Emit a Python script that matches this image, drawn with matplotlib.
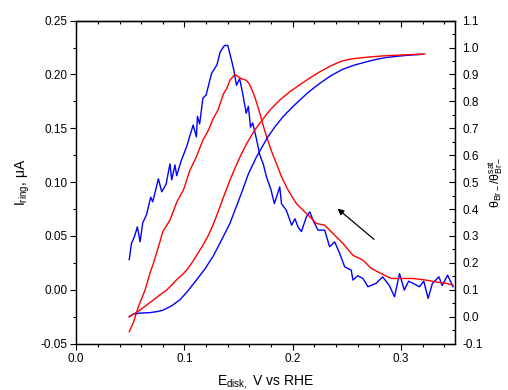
import numpy as np
import matplotlib
matplotlib.use("Agg")
import matplotlib.pyplot as plt
from matplotlib.ticker import MultipleLocator, FormatStrFormatter

plt.rcParams["font.family"] = ["Liberation Sans", "DejaVu Sans"]
plt.rcParams["mathtext.fontset"] = "custom"
plt.rcParams["mathtext.rm"] = "Liberation Sans"
plt.rcParams["mathtext.it"] = "Liberation Sans:italic"
plt.rcParams["axes.unicode_minus"] = False

# ring current, blue (V, uA)
ring_blue_E = [0.049, 0.051, 0.054, 0.0565, 0.059, 0.0614, 0.065, 0.0688, 0.0707, 0.0759,
               0.079, 0.083, 0.0866, 0.0882, 0.0912, 0.0928, 0.097, 0.102, 0.108, 0.111,
               0.112, 0.114, 0.117, 0.120, 0.125, 0.130, 0.133, 0.137, 0.140, 0.1435,
               0.1456, 0.148, 0.151, 0.154, 0.157, 0.159, 0.161, 0.163, 0.1665, 0.1696,
               0.1727, 0.1757, 0.180, 0.183, 0.188, 0.1896, 0.194, 0.199, 0.202, 0.205,
               0.208, 0.2126, 0.2157, 0.219, 0.2233, 0.2295, 0.234, 0.2387, 0.2433, 0.248,
               0.254, 0.2556, 0.260, 0.2648, 0.2694, 0.277, 0.283, 0.289, 0.294, 0.2986,
               0.303, 0.307, 0.311, 0.317, 0.321, 0.325, 0.329, 0.335, 0.338, 0.343, 0.348]
ring_blue_I = [0.028, 0.043, 0.050, 0.0585, 0.0445, 0.062, 0.070, 0.086, 0.0817, 0.103,
               0.091, 0.098, 0.117, 0.102, 0.116, 0.106, 0.120, 0.133, 0.153, 0.142,
               0.161, 0.154, 0.178, 0.181, 0.201, 0.209, 0.221, 0.227, 0.227, 0.213,
               0.204, 0.190, 0.196, 0.181, 0.164, 0.1705, 0.151, 0.155, 0.140, 0.125,
               0.117, 0.105, 0.0926, 0.080, 0.0956, 0.080, 0.074, 0.060, 0.066, 0.058,
               0.054, 0.0678, 0.0724, 0.064, 0.0554, 0.0554, 0.040, 0.0445, 0.0338, 0.0213,
               0.0183, 0.009, 0.013, 0.0105, 0.0028, 0.006, 0.012, 0.0043, -0.0065, 0.015,
               -0.0003, 0.008, 0.006, 0.0028, 0.008, -0.008, 0.006, 0.012, 0.004, 0.0136, 0.0028]

# ring current, red
ring_red_E = [0.049, 0.053, 0.0574, 0.0636, 0.068, 0.0713, 0.076, 0.080, 0.0866, 0.093,
              0.099, 0.105, 0.111, 0.117, 0.122, 0.1265, 0.131, 0.136, 0.139, 0.142,
              0.1465, 0.1527, 0.157, 0.160, 0.163, 0.165, 0.1696, 0.174, 0.180, 0.185,
              0.1896, 0.1957, 0.2034, 0.2126, 0.2218, 0.2295, 0.237, 0.2464, 0.2556, 0.2648,
              0.2725, 0.2817, 0.291, 0.3017, 0.311, 0.323, 0.332, 0.3416, 0.348]
ring_red_I = [-0.039, -0.030, -0.0158, -0.0003, 0.015, 0.0245, 0.040, 0.054, 0.0647, 0.0817,
              0.0926, 0.111, 0.1235, 0.139, 0.148, 0.159, 0.167, 0.182, 0.187, 0.1947,
              0.200, 0.196, 0.1947, 0.191, 0.184, 0.179, 0.164, 0.148, 0.1297, 0.117,
              0.105, 0.0926, 0.080, 0.0709, 0.0616, 0.060, 0.0524, 0.043, 0.032, 0.0276,
              0.0199, 0.015, 0.0105, 0.0105, 0.0105, 0.009, 0.0074, 0.006, 0.0043]

# Br- coverage (right axis)
cov_blue_E = [0.049, 0.053, 0.058, 0.068, 0.075, 0.080, 0.088, 0.0959, 0.103, 0.111,
              0.119, 0.1265, 0.134, 0.142, 0.1475, 0.1527, 0.159, 0.1665, 0.177, 0.184,
              0.191, 0.199, 0.2065, 0.215, 0.225, 0.235, 0.246, 0.257, 0.268, 0.277,
              0.286, 0.297, 0.308, 0.320]
cov_blue = [0.0, 0.010, 0.013, 0.015, 0.019, 0.024, 0.040, 0.063, 0.095, 0.136,
            0.178, 0.225, 0.283, 0.347, 0.405, 0.460, 0.530, 0.594, 0.668, 0.708,
            0.743, 0.776, 0.805, 0.836, 0.867, 0.895, 0.919, 0.935, 0.947, 0.956,
            0.963, 0.968, 0.972, 0.975]

cov_red_E = [0.049, 0.054, 0.059, 0.065, 0.0713, 0.077, 0.0836, 0.088, 0.093, 0.098,
             0.102, 0.106, 0.110, 0.117, 0.122, 0.127, 0.132, 0.137, 0.142, 0.147,
             0.152, 0.157, 0.164, 0.171, 0.179, 0.188, 0.197, 0.2065, 0.215, 0.225,
             0.235, 0.246, 0.256, 0.268, 0.283, 0.2986, 0.310, 0.322]
cov_red = [0.0, 0.012, 0.025, 0.043, 0.062, 0.080, 0.099, 0.117, 0.138, 0.156,
           0.173, 0.195, 0.220, 0.265, 0.302, 0.347, 0.400, 0.455, 0.507, 0.555,
           0.600, 0.640, 0.688, 0.727, 0.768, 0.805, 0.835, 0.862, 0.885, 0.910,
           0.932, 0.951, 0.959, 0.964, 0.969, 0.972, 0.974, 0.976]

fig = plt.figure(figsize=(5.08, 3.90), dpi=100)
ax = fig.add_axes([0.150, 0.119, 0.746, 0.828])
ax2 = ax.twinx()

lw = 1.0
ax.plot(ring_blue_E, ring_blue_I, color="#0000ff", lw=lw)
ax.plot(ring_red_E, ring_red_I, color="#ff0000", lw=lw)
ax2.plot(cov_blue_E, cov_blue, color="#0000ff", lw=lw)
ax2.plot(cov_red_E, cov_red, color="#ff0000", lw=lw)

ax.annotate("", xy=(0.2394, 0.077), xytext=(0.277, 0.0452),
            arrowprops=dict(arrowstyle="-|>", color="black", lw=0.9, mutation_scale=9))

ax.set_xlim(0.0, 0.35)
ax.set_ylim(-0.05, 0.25)
ax2.set_ylim(-0.1, 1.1)

ax.xaxis.set_major_locator(MultipleLocator(0.1))
ax.xaxis.set_minor_locator(MultipleLocator(0.02))
ax.xaxis.set_major_formatter(FormatStrFormatter("%.1f"))
ax.yaxis.set_major_locator(MultipleLocator(0.05))
ax.yaxis.set_minor_locator(MultipleLocator(0.025))
ax.yaxis.set_major_formatter(FormatStrFormatter("%.2f"))
ax2.yaxis.set_major_locator(MultipleLocator(0.1))
ax2.yaxis.set_minor_locator(MultipleLocator(0.05))
ax2.yaxis.set_major_formatter(FormatStrFormatter("%.1f"))

fs = 8.5
ax.tick_params(axis="both", which="major", direction="out", length=4.5, width=0.8,
               labelsize=fs, pad=2)
ax.tick_params(axis="both", which="minor", direction="out", length=2.5, width=0.8)
ax.tick_params(axis="y", which="both", right=False)
ax2.tick_params(axis="y", which="major", direction="in", length=4, width=0.8,
                labelsize=fs, pad=5)
ax2.tick_params(axis="y", which="minor", direction="in", length=2.5, width=0.8)

top = ax.secondary_xaxis("top")
top.xaxis.set_major_locator(MultipleLocator(0.1))
top.xaxis.set_minor_locator(MultipleLocator(0.02))
top.tick_params(axis="x", which="major", direction="in", length=4, width=0.8,
                labeltop=False)
top.tick_params(axis="x", which="minor", direction="in", length=2.5, width=0.8)

for a in (ax, ax2):
    for s in a.spines.values():
        s.set_linewidth(0.9)
top.spines["top"].set_linewidth(0.9)

ax.set_xlabel("E$_{\\mathrm{disk},}$ V vs RHE", fontsize=10, labelpad=6)
ax.set_ylabel("I$_{\\mathrm{ring}}$, \u03bcA", fontsize=10, labelpad=6)
ax2.set_ylabel("\u03b8$_{\\mathrm{Br-}}$/\u03b8$^{\\mathrm{sat}}_{\\mathrm{Br-}}$",
               fontsize=9, rotation=90, labelpad=3)

fig.savefig("out.png", dpi=100)
